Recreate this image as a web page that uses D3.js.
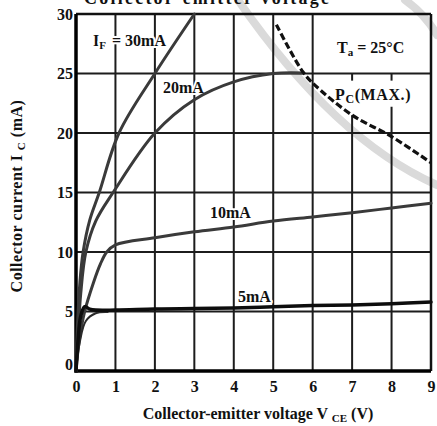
<!DOCTYPE html>
<html>
<head>
<meta charset="utf-8">
<script src="https://cdn.jsdelivr.net/npm/d3@7"></script>
<style>
  html, body { margin: 0; padding: 0; background: #fff; }
  svg { display: block; }
  text { font-family: "Liberation Serif", "Times New Roman", serif; font-weight: bold; fill: #111; }
  .halo { paint-order: stroke; stroke: #fff; stroke-width: 4px; stroke-linejoin: round; }
</style>
</head>
<body>
<svg id="chart" width="437" height="426"></svg>
<script>
// Collector current vs. collector-emitter voltage, Ta = 25°C

const xTicks = [0, 1, 2, 3, 4, 5, 6, 7, 8, 9];
const yTicks = [0, 5, 10, 15, 20, 25, 30];

// IF = 30 mA
const vce30 = [0, 0.04, 0.1, 0.18, 0.35, 0.59, 1.09, 2.0, 3.0];
const ic30  = [0, 4.0, 7.5, 10.0, 12.7, 15.0, 20.0, 25.0, 30.0];

// IF = 20 mA
const vce20 = [0, 0.05, 0.12, 0.25, 0.5, 0.94, 2.0, 3.0, 4.0, 5.0, 5.76];
const ic20  = [0, 3.0, 6.5, 10.0, 12.6, 15.0, 20.0, 22.8, 24.3, 25.0, 25.05];

// IF = 10 mA
const vce10 = [0, 0.08, 0.22, 0.44, 0.62, 0.78, 1.0, 2.0, 3.0, 4.0, 5.0, 6.0, 7.0, 8.0, 9.0];
const ic10  = [0, 2.5, 5.0, 7.4, 9.0, 10.0, 10.6, 11.2, 11.7, 12.1, 12.6, 12.95, 13.3, 13.7, 14.1];

// IF = 5 mA
const vce5 = [0, 0.05, 0.12, 0.22, 0.35, 0.5, 1.0, 2.0, 3.0, 4.0, 5.0, 6.0, 7.0, 8.0, 9.0];
const ic5  = [0, 2.5, 4.6, 5.4, 5.2, 5.12, 5.12, 5.2, 5.25, 5.3, 5.4, 5.5, 5.55, 5.65, 5.8];

// IF = 5 mA, lower trace settling onto 5 mA
const vce5Low = [0, 0.1, 0.25, 0.5, 0.8];
const ic5Low  = [0, 2.5, 4.2, 4.85, 4.95];

// Maximum collector power dissipation PC(MAX.)
const vcePc = [5.08, 5.4, 5.76, 6.0, 7.0, 8.0, 9.0];
const icPc  = [29.1, 27.1, 25.1, 24.2, 21.5, 19.7, 17.5];

const curveLabels = ["30mA", "20mA", "10mA", "5mA"];

const svg = d3.select("#chart");
const x = d3.scaleLinear().domain([0, 9]).range([76, 431]);
const y = d3.scaleLinear().domain([0, 30]).range([371, 14]);

// faint stamp arcs in the background
const stamp = svg.append("g").attr("fill", "none").attr("stroke", "#dadada")
  .attr("stroke-width", 8).attr("stroke-linecap", "round");
stamp.append("path").attr("d", "M238,0 Q335,140 437,185");
stamp.append("path").attr("d", "M405,0 Q425,14 437,35");

// partial title cut by the top edge
svg.append("text")
  .attr("x", 84).attr("y", 4)
  .attr("font-size", 18)
  .attr("textLength", 245)
  .text("Collector-emitter voltage");

// grid
const grid = svg.append("g").attr("stroke", "#1c1c1c").attr("stroke-width", 2);
yTicks.filter(v => v > 0 && v < 30).forEach(v => {
  grid.append("line").attr("x1", x(0)).attr("x2", x(9)).attr("y1", y(v)).attr("y2", y(v));
});
// the lines at 7 V and 8 V stop short below the PC(MAX.) label
const gridStop = { 7: 21.5, 8: 22.2 };
xTicks.filter(v => v > 0 && v < 9).forEach(v => {
  if (gridStop[v] !== undefined) {
    grid.append("line").attr("x1", x(v)).attr("x2", x(v)).attr("y1", y(0)).attr("y2", y(gridStop[v]));
    grid.append("line").attr("x1", x(v)).attr("x2", x(v)).attr("y1", y(25)).attr("y2", y(24.4));
  } else {
    grid.append("line").attr("x1", x(v)).attr("x2", x(v)).attr("y1", y(0)).attr("y2", y(30));
  }
});
// frame
svg.append("line").attr("x1", x(0)).attr("x2", x(9)).attr("y1", y(30)).attr("y2", y(30))
  .attr("stroke", "#111").attr("stroke-width", 2.5);
svg.append("line").attr("x1", x(9)).attr("x2", x(9)).attr("y1", y(30)).attr("y2", y(0))
  .attr("stroke", "#111").attr("stroke-width", 2.5);
svg.append("line").attr("x1", x(0)).attr("x2", x(0)).attr("y1", y(30)).attr("y2", y(0) + 1.5)
  .attr("stroke", "#000").attr("stroke-width", 3.5);
svg.append("line").attr("x1", x(0) - 1.5).attr("x2", x(9)).attr("y1", y(0)).attr("y2", y(0))
  .attr("stroke", "#000").attr("stroke-width", 3.5);

// curve labels sit on a white halo that breaks the grid lines
const lab = svg.append("g").attr("font-size", 16);
const l30 = lab.append("text").attr("class", "halo").attr("x", 93).attr("y", 46);
l30.append("tspan").text("I");
l30.append("tspan").attr("font-size", 11).attr("dy", 3).text("F");
l30.append("tspan").attr("dy", -3).attr("dx", 2).text(" =  " + curveLabels[0]);
lab.append("text").attr("class", "halo").attr("x", 163).attr("y", 93).text(curveLabels[1]);
lab.append("text").attr("class", "halo").attr("x", 210).attr("y", 218).text(curveLabels[2]);
lab.append("text").attr("class", "halo").attr("x", 238).attr("y", 302).text(curveLabels[3]);

const ta = lab.append("text").attr("class", "halo").attr("x", 337).attr("y", 53);
ta.append("tspan").text("T");
ta.append("tspan").attr("font-size", 11).attr("dy", 3).text("a");
ta.append("tspan").attr("dy", -3).text(" = 25°C");

const pc = lab.append("text").attr("class", "halo").attr("x", 335).attr("y", 100).attr("letter-spacing", 0.6);
pc.append("tspan").text("P");
pc.append("tspan").attr("font-size", 12).attr("dy", 3).text("C");
pc.append("tspan").attr("dy", -3).text("(MAX.)");

// characteristic curves
const line = d3.line().x(d => x(d[0])).y(d => y(d[1])).curve(d3.curveCatmullRom.alpha(0.5));
const zip = (a, b) => a.map((v, i) => [v, b[i]]);

const curves = [
  { v: vce30, i: ic30, w: 3, c: "#3a3a3a" },
  { v: vce20, i: ic20, w: 3, c: "#3a3a3a" },
  { v: vce10, i: ic10, w: 3, c: "#3a3a3a" },
  { v: vce5Low, i: ic5Low, w: 2, c: "#2a2a2a" },
  { v: vce5, i: ic5, w: 3.5, c: "#0d0d0d" }
];
curves.forEach(k => {
  svg.append("path").attr("d", line(zip(k.v, k.i)))
    .attr("fill", "none").attr("stroke", k.c).attr("stroke-width", k.w)
    .attr("stroke-linejoin", "round").attr("stroke-linecap", "round");
});

svg.append("path").attr("d", line(zip(vcePc, icPc)))
  .attr("fill", "none").attr("stroke", "#111").attr("stroke-width", 3.2)
  .attr("stroke-dasharray", "7,3");

// axis tick labels
const xAxis = svg.append("g").attr("transform", `translate(0,${y(0)})`)
  .call(d3.axisBottom(x).tickValues(xTicks).tickSize(0).tickPadding(10).tickFormat(d3.format("d")));
const yAxis = svg.append("g").attr("transform", `translate(${x(0)},0)`)
  .call(d3.axisLeft(y).tickValues(yTicks).tickSize(0).tickPadding(3).tickFormat(d3.format("d")));
[xAxis, yAxis].forEach(a => {
  a.select(".domain").remove();
  a.selectAll("text").attr("font-family", "Liberation Serif, serif")
    .attr("font-weight", "bold").attr("font-size", 16).attr("fill", "#111");
});
yAxis.selectAll(".tick").filter(d => d === 0).select("text").attr("dy", "-0.1em");

// axis titles
const xt = svg.append("text").attr("x", 258).attr("y", 419)
  .attr("text-anchor", "middle").attr("font-size", 16);
xt.append("tspan").text("Collector-emitter voltage V ");
xt.append("tspan").attr("font-size", 11).attr("dy", 3).text("CE");
xt.append("tspan").attr("dy", -3).text(" (V)");

const yt = svg.append("text").attr("transform", "translate(22,196) rotate(-90)")
  .attr("text-anchor", "middle").attr("font-size", 16).attr("letter-spacing", 0.5);
yt.append("tspan").text("Collector current I ");
yt.append("tspan").attr("font-size", 11).attr("dy", 3).text("C");
yt.append("tspan").attr("dy", -3).text(" (mA)");
</script>
</body>
</html>
